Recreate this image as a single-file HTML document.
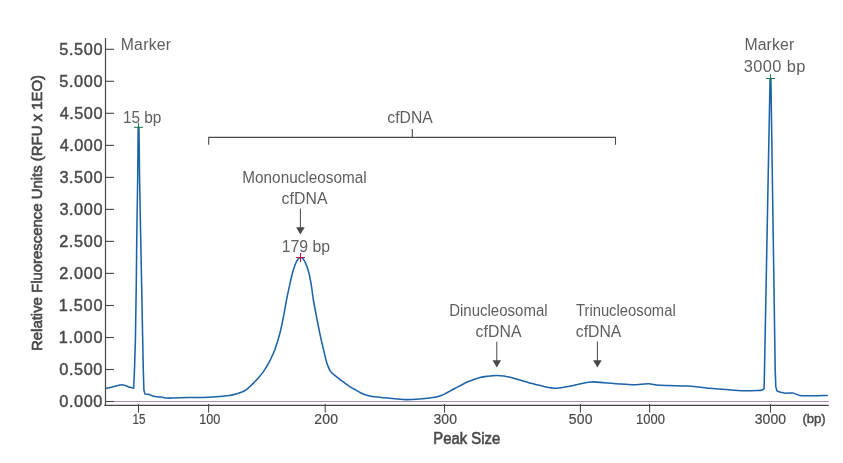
<!DOCTYPE html>
<html><head><meta charset="utf-8"><title>cfDNA electropherogram</title>
<style>
html,body{margin:0;padding:0;background:#fff;}
svg{display:block;font-family:"Liberation Sans",sans-serif;}
</style></head>
<body>
<svg width="843" height="463" viewBox="0 0 843 463">
<rect width="843" height="463" fill="#ffffff"/>
<path d="M105.5 38 V405.9" fill="none" stroke="#48484a" stroke-width="1.2"/>
<path d="M104.2 405.4 H828.8" fill="none" stroke="#48484a" stroke-width="1.2"/>
<path d="M106 401.5 H828.8" stroke="#a67fa9" stroke-width="0.9"/>
<path d="M105.5 49.3 H114" stroke="#48484a" stroke-width="1.1"/>
<text x="59.35" y="54.9" font-size="16.3" text-anchor="start" font-weight="normal" fill="#48484a" textLength="43.09" lengthAdjust="spacing" stroke="#4d4d4f" stroke-width="0.45">5.500</text>
<path d="M105.5 81.3 H114" stroke="#48484a" stroke-width="1.1"/>
<text x="59.35" y="86.9" font-size="16.3" text-anchor="start" font-weight="normal" fill="#48484a" textLength="43.09" lengthAdjust="spacing" stroke="#4d4d4f" stroke-width="0.45">5.000</text>
<path d="M105.5 113.3 H114" stroke="#48484a" stroke-width="1.1"/>
<text x="59.63" y="118.9" font-size="16.3" text-anchor="start" font-weight="normal" fill="#48484a" textLength="42.81" lengthAdjust="spacing" stroke="#4d4d4f" stroke-width="0.45">4.500</text>
<path d="M105.5 145.4 H114" stroke="#48484a" stroke-width="1.1"/>
<text x="59.63" y="151.0" font-size="16.3" text-anchor="start" font-weight="normal" fill="#48484a" textLength="42.81" lengthAdjust="spacing" stroke="#4d4d4f" stroke-width="0.45">4.000</text>
<path d="M105.5 177.4 H114" stroke="#48484a" stroke-width="1.1"/>
<text x="59.38" y="183.0" font-size="16.3" text-anchor="start" font-weight="normal" fill="#48484a" textLength="43.06" lengthAdjust="spacing" stroke="#4d4d4f" stroke-width="0.45">3.500</text>
<path d="M105.5 209.4 H114" stroke="#48484a" stroke-width="1.1"/>
<text x="59.38" y="215.0" font-size="16.3" text-anchor="start" font-weight="normal" fill="#48484a" textLength="43.06" lengthAdjust="spacing" stroke="#4d4d4f" stroke-width="0.45">3.000</text>
<path d="M105.5 241.4 H114" stroke="#48484a" stroke-width="1.1"/>
<text x="59.18" y="247.0" font-size="16.3" text-anchor="start" font-weight="normal" fill="#48484a" textLength="43.26" lengthAdjust="spacing" stroke="#4d4d4f" stroke-width="0.45">2.500</text>
<path d="M105.5 273.4 H114" stroke="#48484a" stroke-width="1.1"/>
<text x="59.18" y="279.0" font-size="16.3" text-anchor="start" font-weight="normal" fill="#48484a" textLength="43.26" lengthAdjust="spacing" stroke="#4d4d4f" stroke-width="0.45">2.000</text>
<path d="M105.5 305.5 H114" stroke="#48484a" stroke-width="1.1"/>
<text x="58.76" y="311.1" font-size="16.3" text-anchor="start" font-weight="normal" fill="#48484a" textLength="43.68" lengthAdjust="spacing" stroke="#4d4d4f" stroke-width="0.45">1.500</text>
<path d="M105.5 337.5 H114" stroke="#48484a" stroke-width="1.1"/>
<text x="58.76" y="343.1" font-size="16.3" text-anchor="start" font-weight="normal" fill="#48484a" textLength="43.68" lengthAdjust="spacing" stroke="#4d4d4f" stroke-width="0.45">1.000</text>
<path d="M105.5 369.5 H114" stroke="#48484a" stroke-width="1.1"/>
<text x="59.36" y="375.1" font-size="16.3" text-anchor="start" font-weight="normal" fill="#48484a" textLength="43.07" lengthAdjust="spacing" stroke="#4d4d4f" stroke-width="0.45">0.500</text>
<path d="M105.5 401.5 H114" stroke="#48484a" stroke-width="1.1"/>
<text x="59.36" y="407.1" font-size="16.3" text-anchor="start" font-weight="normal" fill="#48484a" textLength="43.07" lengthAdjust="spacing" stroke="#4d4d4f" stroke-width="0.45">0.000</text>
<path d="M138.5 404 V412.6" stroke="#48484a" stroke-width="1.1"/>
<text x="132.61" y="424.0" font-size="14.0" text-anchor="start" font-weight="normal" fill="#48484a" textLength="12.98" lengthAdjust="spacingAndGlyphs" stroke="#4d4d4f" stroke-width="0.2">15</text>
<path d="M208.6 404 V412.6" stroke="#48484a" stroke-width="1.1"/>
<text x="199.23" y="424.0" font-size="14.0" text-anchor="start" font-weight="normal" fill="#48484a" textLength="21.16" lengthAdjust="spacingAndGlyphs" stroke="#4d4d4f" stroke-width="0.2">100</text>
<path d="M325.2 404 V412.6" stroke="#48484a" stroke-width="1.1"/>
<text x="314.3" y="424.0" font-size="14.0" text-anchor="start" font-weight="normal" fill="#48484a" textLength="23.65" lengthAdjust="spacing" stroke="#4d4d4f" stroke-width="0.2">200</text>
<path d="M444.5 404 V412.6" stroke="#48484a" stroke-width="1.1"/>
<text x="433.47" y="424.0" font-size="14.0" text-anchor="start" font-weight="normal" fill="#48484a" textLength="23.58" lengthAdjust="spacing" stroke="#4d4d4f" stroke-width="0.2">300</text>
<path d="M580.4 404 V412.6" stroke="#48484a" stroke-width="1.1"/>
<text x="568.84" y="424.0" font-size="14.0" text-anchor="start" font-weight="normal" fill="#48484a" textLength="23.61" lengthAdjust="spacing" stroke="#4d4d4f" stroke-width="0.2">500</text>
<path d="M649.6 404 V412.6" stroke="#48484a" stroke-width="1.1"/>
<text x="636.11" y="424.0" font-size="14.0" text-anchor="start" font-weight="normal" fill="#48484a" textLength="28.79" lengthAdjust="spacingAndGlyphs" stroke="#4d4d4f" stroke-width="0.2">1000</text>
<path d="M770.5 404 V412.6" stroke="#48484a" stroke-width="1.1"/>
<text x="754.67" y="424.0" font-size="14.0" text-anchor="start" font-weight="normal" fill="#48484a" textLength="31.48" lengthAdjust="spacing" stroke="#4d4d4f" stroke-width="0.2">3000</text>
<text x="802.39" y="423.0" font-size="13.2" text-anchor="start" font-weight="normal" fill="#48484a" textLength="23.33" lengthAdjust="spacingAndGlyphs" stroke="#4d4d4f" stroke-width="0.45">(bp)</text>
<text x="433.28" y="444.1" font-size="15.6" text-anchor="start" font-weight="normal" fill="#48484a" textLength="66.88" lengthAdjust="spacingAndGlyphs" stroke="#4d4d4f" stroke-width="0.6">Peak Size</text>
<text transform="translate(42.1 351) rotate(-90)" font-size="15.4" fill="#48484a" stroke="#48484a" stroke-width="0.65" textLength="276" lengthAdjust="spacingAndGlyphs">Relative Fluorescence Units (RFU x 1EO)</text>
<path d="M105.6 388.6 C107.00 388.27 111.60 387.18 114 386.6 C116.40 386.02 118.57 385.42 120 385.1 C121.43 384.78 121.68 384.62 122.6 384.7 C123.52 384.78 124.37 385.18 125.5 385.6 C126.63 386.02 128.03 386.78 129.4 387.2 C130.77 387.62 132.98 387.95 133.7 388.1 L134.5 369 L135.4 340 L136.3 283 L136.9 228 L137.7 178 L138.15 127.3 L138.95 127.3 L139.6 178 L140.5 228 L141.6 283 L142.7 340 L143.3 370 L143.9 390 L144.9 393.9 C145.45 393.97 146.50 393.85 148.2 394.3 C149.90 394.75 152.90 396.13 155.1 396.6 C157.30 397.07 159.20 396.85 161.4 397.1 C163.60 397.35 163.92 398.02 168.3 398.1 C172.68 398.18 181.02 397.75 187.7 397.6 C194.38 397.45 201.43 397.57 208.4 397.2 C215.37 396.83 224.63 396.03 229.5 395.4 C234.37 394.77 235.42 394.00 237.6 393.4 C239.78 392.80 241.13 392.42 242.6 391.8 C244.07 391.18 245.17 390.58 246.4 389.7 C247.63 388.82 248.75 387.68 250 386.5 C251.25 385.32 252.48 384.07 253.9 382.6 C255.32 381.13 257.03 379.37 258.5 377.7 C259.97 376.03 261.45 374.28 262.7 372.6 C263.95 370.92 264.97 369.27 266 367.6 C267.03 365.93 267.90 364.50 268.9 362.6 C269.90 360.70 270.97 358.47 272 356.2 C273.03 353.93 273.78 352.82 275.1 349 C276.42 345.18 278.50 338.70 279.9 333.3 C281.30 327.90 282.40 322.15 283.5 316.6 C284.60 311.05 285.58 304.73 286.5 300 C287.42 295.27 288.02 292.67 289 288.2 C289.98 283.73 291.28 277.35 292.4 273.2 C293.52 269.05 294.72 265.70 295.7 263.3 C296.68 260.90 297.48 259.78 298.3 258.8 C299.12 257.82 299.82 257.40 300.6 257.4 C301.38 257.40 302.15 257.82 303 258.8 C303.85 259.78 304.70 260.90 305.7 263.3 C306.70 265.70 308.03 269.33 309 273.2 C309.97 277.07 310.77 282.03 311.5 286.5 C312.23 290.97 312.57 294.98 313.4 300 C314.23 305.02 315.43 311.05 316.5 316.6 C317.57 322.15 318.62 327.75 319.8 333.3 C320.98 338.85 322.52 345.23 323.6 349.9 C324.68 354.57 325.53 358.52 326.3 361.3 C327.07 364.08 327.58 365.03 328.2 366.6 C328.82 368.17 329.32 369.58 330 370.7 C330.68 371.82 331.45 372.47 332.3 373.3 C333.15 374.13 333.65 374.53 335.1 375.7 C336.55 376.87 338.92 378.73 341 380.3 C343.08 381.87 345.43 383.65 347.6 385.1 C349.77 386.55 351.92 387.77 354 389 C356.08 390.23 358.10 391.50 360.1 392.5 C362.10 393.50 363.90 394.32 366 395 C368.10 395.68 369.50 396.13 372.7 396.6 C375.90 397.07 381.03 397.40 385.2 397.8 C389.37 398.20 394.23 398.70 397.7 399 C401.17 399.30 402.35 399.60 406 399.6 C409.65 399.60 414.85 399.38 419.6 399 C424.35 398.62 430.77 397.92 434.5 397.3 C438.23 396.68 438.63 396.77 442 395.3 C445.37 393.83 450.37 390.75 454.7 388.5 C459.03 386.25 463.78 383.62 468 381.8 C472.22 379.98 476.67 378.53 480 377.6 C483.33 376.67 485.27 376.55 488 376.2 C490.73 375.85 493.73 375.52 496.4 375.5 C499.07 375.48 501.37 375.73 504 376.1 C506.63 376.47 507.92 376.57 512.2 377.7 C516.48 378.83 524.30 381.40 529.7 382.9 C535.10 384.40 540.03 385.82 544.6 386.7 C549.17 387.58 552.95 388.28 557.1 388.2 C561.25 388.12 565.35 387.00 569.5 386.2 C573.65 385.40 578.33 384.12 582 383.4 C585.67 382.68 587.77 382.02 591.5 381.9 C595.23 381.78 599.77 382.37 604.4 382.7 C609.03 383.03 614.53 383.57 619.3 383.9 C624.07 384.23 629.38 384.63 633 384.7 C636.62 384.77 638.35 384.47 641 384.3 C643.65 384.13 646.73 383.65 648.9 383.7 C651.07 383.75 652.20 384.33 654 384.6 C655.80 384.87 654.07 385.05 659.7 385.3 C665.33 385.55 678.97 385.55 687.8 386.1 C696.63 386.65 704.40 387.87 712.7 388.6 C721.00 389.33 730.12 390.18 737.6 390.5 C745.08 390.82 753.43 390.62 757.6 390.5 C761.77 390.38 761.52 390.18 762.6 389.8 C763.68 389.42 763.85 388.47 764.1 388.2 L764.5 370 L770.05 78.6 L770.9 78.6 L775.2 370 L775.8 386.4 L777 391.1 C777.73 391.32 779.93 392.05 781.4 392.4 C782.87 392.75 783.92 393.10 785.8 393.2 C787.68 393.30 790.42 392.63 792.7 393 C794.98 393.37 797.00 394.93 799.5 395.4 C802.00 395.87 802.98 395.80 807.7 395.8 C812.42 395.80 824.45 395.47 827.8 395.4" fill="none" stroke="#1c63a8" stroke-width="1.55" stroke-linejoin="round" stroke-linecap="butt"/>
<path d="M134.0 127.3 H143.0 M138.5 122.8 V131.8" stroke="#1a7a50" stroke-width="1" fill="none"/>
<path d="M766.0 78.5 H775.0 M770.5 74.0 V83.0" stroke="#1a7a50" stroke-width="1" fill="none"/>
<path d="M296.0 257.5 H305.0 M300.5 253.0 V262.0" stroke="#c5124f" stroke-width="1" fill="none"/>
<text x="120.7" y="49.8" font-size="15.8" text-anchor="start" font-weight="normal" fill="#5d5e60" textLength="50.36" lengthAdjust="spacing">Marker</text>
<text x="122.93" y="122.6" font-size="16.4" text-anchor="start" font-weight="normal" fill="#5d5e60" textLength="38.52" lengthAdjust="spacingAndGlyphs">15 bp</text>
<text x="744.4" y="49.7" font-size="15.8" text-anchor="start" font-weight="normal" fill="#5d5e60" textLength="49.76" lengthAdjust="spacing">Marker</text>
<text x="743.78" y="71.6" font-size="16.4" text-anchor="start" font-weight="normal" fill="#5d5e60" textLength="61.51" lengthAdjust="spacing">3000 bp</text>
<text x="387.33" y="122.6" font-size="15.8" text-anchor="start" font-weight="normal" fill="#5d5e60" textLength="45.4" lengthAdjust="spacingAndGlyphs">cfDNA</text>
<text x="242.34" y="183.2" font-size="15.8" text-anchor="start" font-weight="normal" fill="#5d5e60" textLength="124.28" lengthAdjust="spacingAndGlyphs">Mononucleosomal</text>
<text x="281.53" y="204.1" font-size="15.8" text-anchor="start" font-weight="normal" fill="#5d5e60" textLength="46.1" lengthAdjust="spacing">cfDNA</text>
<text x="281.7" y="251.9" font-size="16.4" text-anchor="start" font-weight="normal" fill="#5d5e60" textLength="48.37" lengthAdjust="spacingAndGlyphs">179 bp</text>
<text x="449.17" y="315.7" font-size="15.8" text-anchor="start" font-weight="normal" fill="#5d5e60" textLength="98.44" lengthAdjust="spacingAndGlyphs">Dinucleosomal</text>
<text x="475.43" y="336.8" font-size="15.8" text-anchor="start" font-weight="normal" fill="#5d5e60" textLength="46.0" lengthAdjust="spacing">cfDNA</text>
<text x="575.97" y="315.7" font-size="15.8" text-anchor="start" font-weight="normal" fill="#5d5e60" textLength="99.72" lengthAdjust="spacingAndGlyphs">Trinucleosomal</text>
<text x="575.83" y="336.8" font-size="15.8" text-anchor="start" font-weight="normal" fill="#5d5e60" textLength="45.5" lengthAdjust="spacingAndGlyphs">cfDNA</text>
<path d="M208.7 144.8 V137.35 H615.5 V144.8 M412.3 137.35 V129.1" fill="none" stroke="#48484a" stroke-width="1.1" stroke-linejoin="miter"/>
<path d="M300.4 208.6 V228.5" stroke="#48484a" stroke-width="1"/><path d="M296.09999999999997 227.2 H304.7 L300.4 234.5 Z" fill="#48484a"/>
<path d="M496.8 341.6 V361.6" stroke="#48484a" stroke-width="1"/><path d="M492.5 360.3 H501.1 L496.8 367.6 Z" fill="#48484a"/>
<path d="M597.4 341.6 V361.6" stroke="#48484a" stroke-width="1"/><path d="M593.1 360.3 H601.6999999999999 L597.4 367.6 Z" fill="#48484a"/>
</svg>
</body></html>
